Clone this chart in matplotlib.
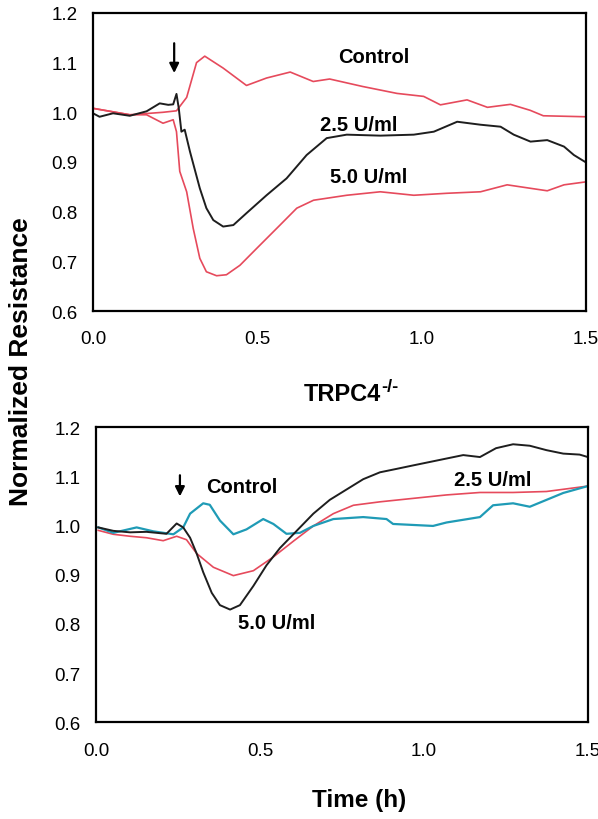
import matplotlib
matplotlib.use("Agg")
import matplotlib.pyplot as plt

plt.rcParams["font.family"] = ["Liberation Sans", "DejaVu Sans"]

# top panel (wild type)
wt_ctrl_t = [0.0, 0.112, 0.213, 0.254, 0.285, 0.315, 0.34, 0.396, 0.467, 0.528, 0.6, 0.67,
             0.72, 0.82, 0.925, 1.006, 1.057, 1.138, 1.2, 1.27, 1.33, 1.37, 1.5]
wt_ctrl_r = [1.008, 0.995, 1.0, 1.003, 1.03, 1.10, 1.113, 1.089, 1.054, 1.069, 1.081, 1.062,
             1.067, 1.052, 1.038, 1.032, 1.015, 1.025, 1.01, 1.016, 1.004, 0.993, 0.991]

wt_25_t = [0.0, 0.02, 0.061, 0.112, 0.163, 0.203, 0.229, 0.244, 0.254, 0.261, 0.269, 0.279,
           0.295, 0.325, 0.345, 0.366, 0.396, 0.427, 0.467, 0.528, 0.589, 0.65, 0.711,
           0.772, 0.874, 0.976, 1.037, 1.108, 1.179, 1.24, 1.28, 1.331, 1.382, 1.433,
           1.463, 1.5]
wt_25_r = [0.998, 0.991, 0.998, 0.993, 1.002, 1.018, 1.015, 1.016, 1.037, 1.008, 0.961, 0.965,
           0.921, 0.847, 0.807, 0.783, 0.77, 0.773, 0.797, 0.833, 0.867, 0.914, 0.948,
           0.955, 0.953, 0.955, 0.961, 0.981, 0.975, 0.971, 0.955, 0.941, 0.944, 0.931,
           0.914, 0.899]

wt_50_t = [0.0, 0.112, 0.163, 0.213, 0.244, 0.254, 0.264, 0.285, 0.305, 0.325, 0.345, 0.376,
           0.406, 0.447, 0.498, 0.569, 0.62, 0.671, 0.772, 0.874, 0.976, 1.077, 1.179,
           1.26, 1.331, 1.382, 1.433, 1.5]
wt_50_r = [1.008, 0.995, 0.995, 0.978, 0.985, 0.961, 0.881, 0.84, 0.766, 0.706, 0.679, 0.671,
           0.673, 0.692, 0.726, 0.773, 0.807, 0.823, 0.833, 0.84, 0.833, 0.837, 0.84,
           0.854, 0.847, 0.842, 0.854, 0.86]

# bottom panel (TRPC4-/-)
ko_black_t = [0.007, 0.053, 0.104, 0.154, 0.215, 0.246, 0.266, 0.287, 0.307, 0.327, 0.353,
              0.378, 0.409, 0.439, 0.48, 0.52, 0.561, 0.612, 0.663, 0.713, 0.764, 0.815,
              0.866, 0.917, 0.967, 1.018, 1.069, 1.12, 1.171, 1.22, 1.272, 1.323, 1.374,
              1.425, 1.475, 1.5]
ko_black_r = [0.996, 0.989, 0.986, 0.987, 0.983, 1.004, 0.996, 0.975, 0.943, 0.905, 0.863,
              0.838, 0.829, 0.838, 0.877, 0.919, 0.954, 0.989, 1.024, 1.052, 1.073, 1.094,
              1.108, 1.115, 1.122, 1.129, 1.136, 1.143, 1.139, 1.157, 1.165, 1.162, 1.153,
              1.146, 1.144, 1.139]

ko_red_t = [0.007, 0.053, 0.104, 0.154, 0.205, 0.246, 0.276, 0.307, 0.358, 0.419, 0.48,
            0.541, 0.602, 0.663, 0.724, 0.785, 0.866, 0.967, 1.069, 1.171, 1.272, 1.374, 1.5]
ko_red_r = [0.99, 0.982, 0.978, 0.975, 0.969, 0.978, 0.971, 0.943, 0.915, 0.898, 0.908,
            0.936, 0.968, 0.999, 1.024, 1.041, 1.048, 1.055, 1.062, 1.067, 1.067, 1.069, 1.08]

ko_ctrl_t = [0.007, 0.053, 0.124, 0.175, 0.236, 0.266, 0.287, 0.327, 0.347, 0.378, 0.419,
             0.459, 0.51, 0.541, 0.581, 0.622, 0.663, 0.724, 0.815, 0.886, 0.906, 0.967,
             1.028, 1.069, 1.171, 1.211, 1.272, 1.323, 1.374, 1.425, 1.5]
ko_ctrl_r = [0.996, 0.985, 0.996, 0.988, 0.982, 0.996, 1.024, 1.045, 1.042, 1.01, 0.982,
             0.992, 1.013, 1.003, 0.983, 0.985, 0.999, 1.013, 1.017, 1.013, 1.003, 1.001,
             0.999, 1.006, 1.017, 1.041, 1.045, 1.038, 1.052, 1.066, 1.08]

yticks = [0.6, 0.7, 0.8, 0.9, 1.0, 1.1, 1.2]
xticks = [0.0, 0.5, 1.0, 1.5]

RED = "#e64a5c"
CYAN = "#1f9bb6"
BLACK = "#1e1e1e"

label_font = {"weight": "bold", "size": 14.5}


def style_axis(ax):
    ax.set_xlim(0, 1.5)
    ax.set_ylim(0.6, 1.2)
    ax.set_xticks(xticks)
    ax.set_xticklabels(["%.1f" % v for v in xticks])
    ax.set_yticks(yticks)
    ax.set_yticklabels(["%.1f" % v for v in yticks])
    ax.tick_params(length=0, labelsize=13.5)
    ax.tick_params(axis="y", pad=11)
    ax.tick_params(axis="x", pad=14)
    for s in ax.spines.values():
        s.set_linewidth(1.6)


def add_arrow(ax, x, y0, y1):
    ax.annotate("", xy=(x, y1), xytext=(x, y0),
                arrowprops=dict(arrowstyle="-|>", color="black", lw=1.6,
                                mutation_scale=14, shrinkA=0, shrinkB=0))


fig = plt.figure(figsize=(5.98, 8.20), dpi=100)
ax1 = fig.add_axes([0.1555, 0.6195, 0.8245, 0.3635])
ax2 = fig.add_axes([0.1605, 0.118, 0.8225, 0.360])

ax1.plot(wt_ctrl_t, wt_ctrl_r, color=RED, lw=1.2)
ax1.plot(wt_50_t, wt_50_r, color=RED, lw=1.2)
ax1.plot(wt_25_t, wt_25_r, color=BLACK, lw=1.4)
style_axis(ax1)
add_arrow(ax1, 0.247, 1.139, 1.079)
ax1.text(0.854, 1.113, "Control", ha="center", va="center", **label_font)
ax1.text(0.808, 0.975, "2.5 U/ml", ha="center", va="center", **label_font)
ax1.text(0.838, 0.871, "5.0 U/ml", ha="center", va="center", **label_font)

ax2.plot(ko_red_t, ko_red_r, color=RED, lw=1.2)
ax2.plot(ko_ctrl_t, ko_ctrl_r, color=CYAN, lw=1.6)
ax2.plot(ko_black_t, ko_black_r, color=BLACK, lw=1.4)
style_axis(ax2)
add_arrow(ax2, 0.256, 1.102, 1.059)
ax2.text(0.446, 1.08, "Control", ha="center", va="center", **label_font)
ax2.text(1.211, 1.094, "2.5 U/ml", ha="center", va="center", **label_font)
ax2.text(0.551, 0.803, "5.0 U/ml", ha="center", va="center", **label_font)

title = fig.text(342 / 598, 1 - 395 / 820, "TRPC4", ha="center", va="center",
                 fontsize=17, weight="bold")
fig.add_artist(plt.Annotation("-/-", xy=(1.0, 1.0), xycoords=title, xytext=(0.5, 3),
                              textcoords="offset points", ha="left", va="top",
                              fontsize=13, weight="bold"))
fig.text(0.035, 1 - 362 / 820, "Normalized Resistance", rotation=90, ha="center",
         va="center", fontsize=19, weight="bold")
fig.text(359 / 598, 1 - 801 / 820, "Time (h)", ha="center", va="center", fontsize=17.5,
         weight="bold")

fig.savefig("out.png", dpi=100)
